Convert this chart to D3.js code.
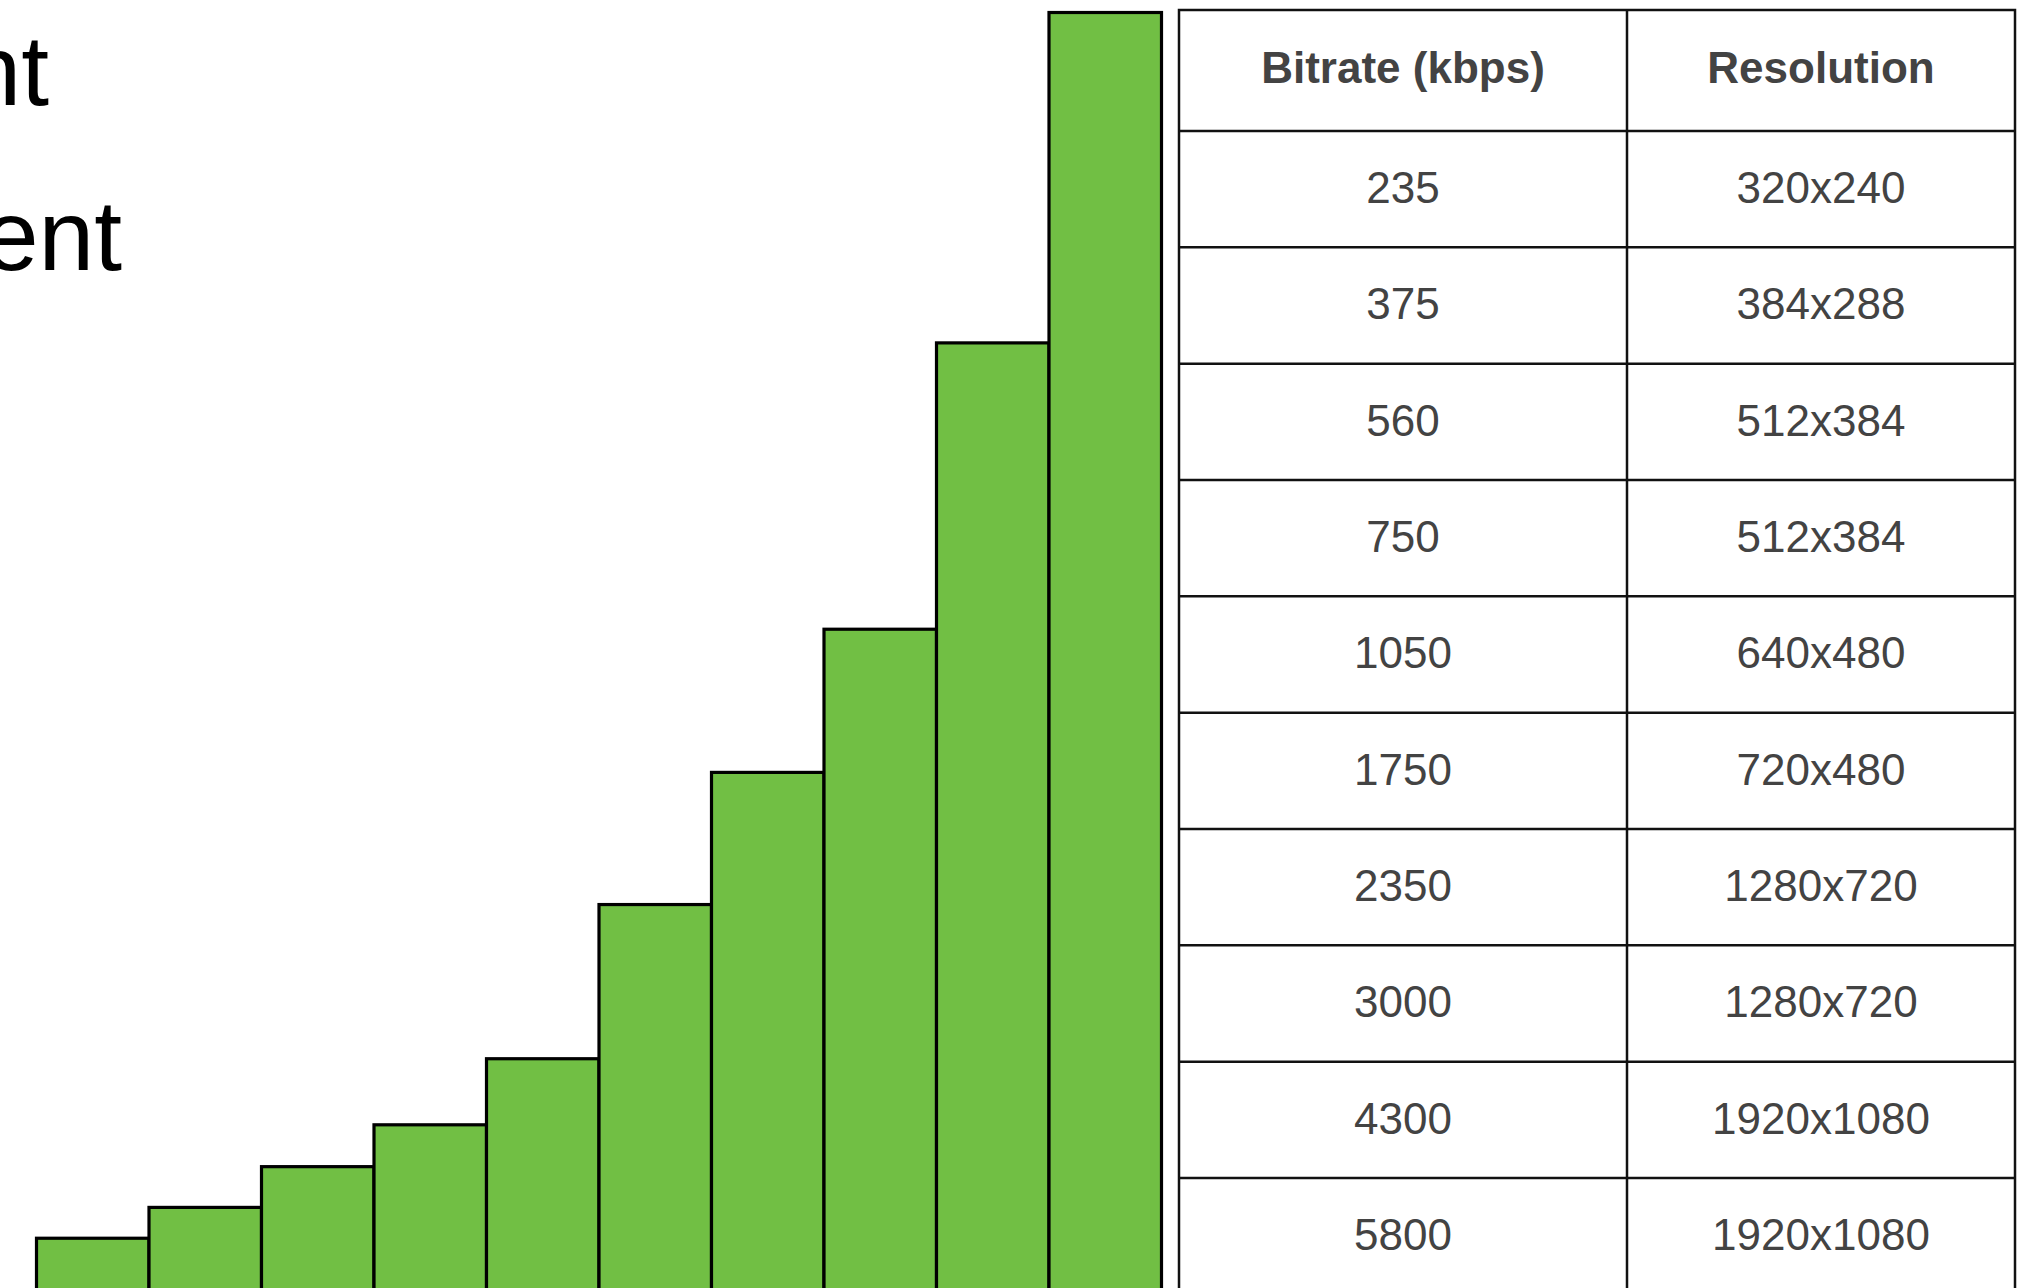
<!DOCTYPE html>
<html>
<head>
<meta charset="utf-8">
<script src="https://cdn.jsdelivr.net/npm/d3@7"></script>
<style>
	html, body { margin: 0; padding: 0; background: #fff; overflow: hidden; }
	svg { display: block; }
</style>
</head>
<body>
<div id="chart"></div>
<script>
// values
const bitrates = [235, 375, 560, 750, 1050, 1750, 2350, 3000, 4300, 5800];
const resolutions = ['320x240', '384x288', '512x384', '512x384', '640x480', '720x480', '1280x720', '1280x720', '1920x1080', '1920x1080'];
const headers = ['Bitrate (kbps)', 'Resolution'];
const titleFragments = ['nt', 'ent'];

const width = 2039;
const height = 1288;

const svg = d3.select('#chart').append('svg')
	.attr('width', width)
	.attr('height', height);

// slide text, cut off by the left edge as in the picture
const titleEnds = [49, 122];
const titleBaselines = [105, 270];
svg.selectAll('.title')
	.data(titleFragments)
	.enter().append('text')
		.attr('class', 'title')
		.attr('x', (d, i) => titleEnds[i])
		.attr('y', (d, i) => titleBaselines[i])
		.attr('text-anchor', 'end')
		.style('font-family', 'Arial, "Liberation Sans", sans-serif')
		.style('font-size', '100px')
		.style('fill', '#000')
		.text((d) => d);

// bars
const xScale = d3.scaleBand()
	.domain(d3.range(bitrates.length))
	.range([36.5, 1161.5])
	.padding(0);

const yScale = d3.scaleLinear()
	.domain([0, 5800])
	.range([1290, 12.5]);

svg.selectAll('.bar')
	.data(bitrates)
	.enter().append('rect')
		.attr('class', 'bar')
		.attr('x', (d, i) => xScale(i))
		.attr('y', (d) => yScale(d))
		.attr('width', xScale.bandwidth())
		.attr('height', (d) => yScale(0) - yScale(d) + 10)
		.style('fill', '#71bf44')
		.style('stroke', '#000')
		.style('stroke-width', 3.2);

// table
const tableLeft = 1179;
const tableRight = 2015;
const colSplit = 1627;
const tableTop = 10;
const headerBottom = 131;
const rowHeight = 116.33;

const rowScale = d3.scaleBand()
	.domain(d3.range(bitrates.length))
	.range([headerBottom, headerBottom + rowHeight * bitrates.length]);

const colCenters = [(tableLeft + colSplit) / 2, (colSplit + tableRight) / 2];

const table = svg.append('g').attr('class', 'table');

table.append('rect')
	.attr('x', tableLeft)
	.attr('y', tableTop)
	.attr('width', tableRight - tableLeft)
	.attr('height', rowScale.range()[1] - tableTop)
	.style('fill', '#fff')
	.style('stroke', '#111')
	.style('stroke-width', 2.5);

table.append('line')
	.attr('x1', colSplit).attr('x2', colSplit)
	.attr('y1', tableTop).attr('y2', rowScale.range()[1])
	.style('stroke', '#111')
	.style('stroke-width', 2.5);

table.selectAll('.row-line')
	.data(d3.range(bitrates.length))
	.enter().append('line')
		.attr('class', 'row-line')
		.attr('x1', tableLeft).attr('x2', tableRight)
		.attr('y1', (d) => rowScale(d)).attr('y2', (d) => rowScale(d))
		.style('stroke', '#111')
		.style('stroke-width', 2.5);

const textStyle = (sel) => sel
	.attr('text-anchor', 'middle')
	.attr('dominant-baseline', 'central')
	.style('font-family', 'Arial, "Liberation Sans", sans-serif')
	.style('font-size', '44px')
	.style('fill', '#434343');

table.selectAll('.head')
	.data(headers)
	.enter().append('text')
		.attr('class', 'head')
		.attr('x', (d, i) => colCenters[i])
		.attr('y', (tableTop + headerBottom) / 2 - 3)
		.call(textStyle)
		.style('font-weight', 'bold')
		.text((d) => d);

table.selectAll('.cell-bitrate')
	.data(bitrates)
	.enter().append('text')
		.attr('class', 'cell-bitrate')
		.attr('x', colCenters[0])
		.attr('y', (d, i) => rowScale(i) + rowScale.bandwidth() / 2 - 1.5)
		.call(textStyle)
		.text((d) => d);

table.selectAll('.cell-res')
	.data(resolutions)
	.enter().append('text')
		.attr('class', 'cell-res')
		.attr('x', colCenters[1])
		.attr('y', (d, i) => rowScale(i) + rowScale.bandwidth() / 2 - 1.5)
		.call(textStyle)
		.text((d) => d);
</script>
</body>
</html>
